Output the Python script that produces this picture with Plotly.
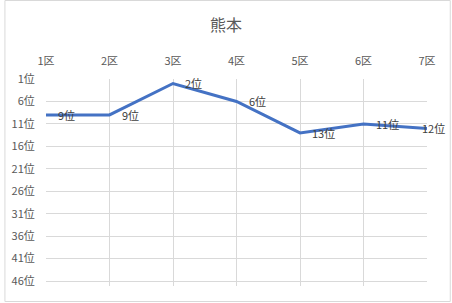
import plotly.graph_objects as go

categories = ["1区", "2区", "3区", "4区", "5区", "6区", "7区"]
ranks = [9, 9, 2, 6, 13, 11, 12]
labels = ["9位", "9位", "2位", "6位", "13位", "11位", "12位"]
ytick_vals = [1, 6, 11, 16, 21, 26, 31, 36, 41, 46]
ytick_text = [f"{v}位" for v in ytick_vals]

W, H = 452, 303
L, R, T, B = 42, 25, 79, 17
FONT = "Noto Sans CJK JP, Noto Sans, sans-serif"

xs = list(range(len(categories)))
fig = go.Figure()
fig.add_trace(go.Scatter(
    x=xs, y=ranks, mode="lines",
    line=dict(color="#4472C4", width=3),
    hoverinfo="skip",
))

annotations = []
for i, (x, y, t) in enumerate(zip(xs, ranks, labels)):
    last = i == len(xs) - 1
    annotations.append(dict(
        x=x, y=y, text=t, xref="x", yref="y", showarrow=False,
        xanchor="right" if last else "left", yanchor="middle",
        xshift=20 if last else 10,
        font=dict(family=FONT, size=11, color="#404040")))

pw = W - L - R
ph = H - T - B
fig.update_layout(
    width=W, height=H,
    margin=dict(l=L, r=R, t=T, b=B),
    paper_bgcolor="white", plot_bgcolor="white",
    showlegend=False,
    annotations=annotations,
    title=dict(text="熊本", x=0.5, xanchor="center", y=1 - 25 / H, yanchor="middle",
               font=dict(family=FONT, size=16, color="#595959")),
    xaxis=dict(side="top", range=[0, len(categories) - 1],
               tickvals=xs, ticktext=categories,
               showgrid=True, gridcolor="#d9d9d9", gridwidth=1,
               zeroline=False, showline=False,
               ticks="outside", ticklen=9, tickcolor="rgba(0,0,0,0)",
               tickfont=dict(family=FONT, size=11, color="#595959")),
    yaxis=dict(range=[47.1, 1], tickvals=ytick_vals, ticktext=ytick_text,
               showgrid=True, gridcolor="#d9d9d9", gridwidth=1,
               zeroline=False, showline=False,
               ticks="outside", ticklen=8, tickcolor="rgba(0,0,0,0)",
               tickfont=dict(family=FONT, size=11, color="#595959")),
    shapes=[dict(type="rect", xref="paper", yref="paper",
                 x0=(0.5 - L) / pw, x1=(W - 1.5 - L) / pw,
                 y0=(H - B - (H - 1.5)) / ph, y1=(H - B - 0.5) / ph,
                 line=dict(color="#d9d9d9", width=1), layer="below")],
)
fig.write_html("out.html")
